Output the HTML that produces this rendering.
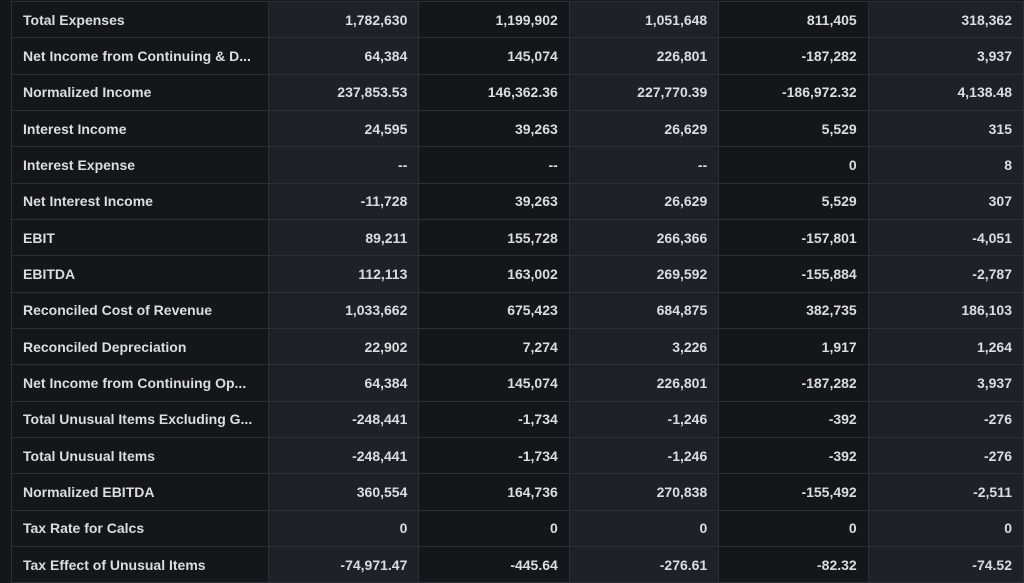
<!DOCTYPE html>
<html><head><style>
html,body{margin:0;padding:0;width:1024px;height:581px;overflow:hidden;background:#14161a;}
table{position:absolute;left:11px;top:1px;border-collapse:collapse;font-family:"Liberation Sans",Arial,sans-serif;font-size:14px;font-weight:bold;color:#dcdde0;table-layout:fixed;}
td{height:35.33px;border:1px solid #2c3036;padding:0 11px;white-space:nowrap;overflow:hidden;box-sizing:border-box;}
td:first-child{text-align:left;background:#14161a;padding-left:11px;width:257px;}
td:not(:first-child){text-align:right;}
td:nth-child(2),td:nth-child(4),td:nth-child(6){background:#1e2128;}
td:nth-child(3),td:nth-child(5){background:#14161a;}
td:nth-child(2){width:151px}td:nth-child(3){width:151px}td:nth-child(4){width:150px}td:nth-child(5){width:150px}td:nth-child(6){width:156px}
tr{height:36.33px}
</style></head><body>
<table>
<tr><td>Total Expenses</td><td>1,782,630</td><td>1,199,902</td><td>1,051,648</td><td>811,405</td><td>318,362</td></tr>
<tr><td>Net Income from Continuing &amp; D...</td><td>64,384</td><td>145,074</td><td>226,801</td><td>-187,282</td><td>3,937</td></tr>
<tr><td>Normalized Income</td><td>237,853.53</td><td>146,362.36</td><td>227,770.39</td><td>-186,972.32</td><td>4,138.48</td></tr>
<tr><td>Interest Income</td><td>24,595</td><td>39,263</td><td>26,629</td><td>5,529</td><td>315</td></tr>
<tr><td>Interest Expense</td><td>--</td><td>--</td><td>--</td><td>0</td><td>8</td></tr>
<tr><td>Net Interest Income</td><td>-11,728</td><td>39,263</td><td>26,629</td><td>5,529</td><td>307</td></tr>
<tr><td>EBIT</td><td>89,211</td><td>155,728</td><td>266,366</td><td>-157,801</td><td>-4,051</td></tr>
<tr><td>EBITDA</td><td>112,113</td><td>163,002</td><td>269,592</td><td>-155,884</td><td>-2,787</td></tr>
<tr><td>Reconciled Cost of Revenue</td><td>1,033,662</td><td>675,423</td><td>684,875</td><td>382,735</td><td>186,103</td></tr>
<tr><td>Reconciled Depreciation</td><td>22,902</td><td>7,274</td><td>3,226</td><td>1,917</td><td>1,264</td></tr>
<tr><td>Net Income from Continuing Op...</td><td>64,384</td><td>145,074</td><td>226,801</td><td>-187,282</td><td>3,937</td></tr>
<tr><td>Total Unusual Items Excluding G...</td><td>-248,441</td><td>-1,734</td><td>-1,246</td><td>-392</td><td>-276</td></tr>
<tr><td>Total Unusual Items</td><td>-248,441</td><td>-1,734</td><td>-1,246</td><td>-392</td><td>-276</td></tr>
<tr><td>Normalized EBITDA</td><td>360,554</td><td>164,736</td><td>270,838</td><td>-155,492</td><td>-2,511</td></tr>
<tr><td>Tax Rate for Calcs</td><td>0</td><td>0</td><td>0</td><td>0</td><td>0</td></tr>
<tr><td>Tax Effect of Unusual Items</td><td>-74,971.47</td><td>-445.64</td><td>-276.61</td><td>-82.32</td><td>-74.52</td></tr>
</table>
</body></html>
